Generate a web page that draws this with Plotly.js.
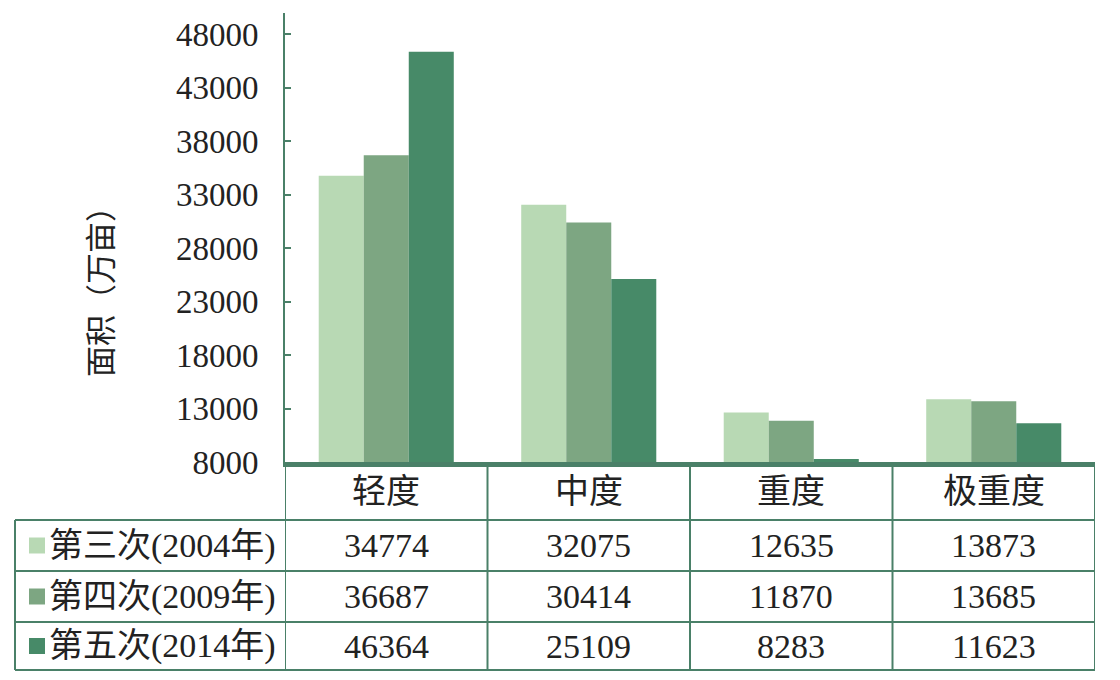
<!DOCTYPE html>
<html>
<head>
<meta charset="utf-8">
<script src="https://cdn.plot.ly/plotly-3.0.1.min.js"></script>
<style>
  html, body { margin: 0; padding: 0; background: #fff; }
  #chart { width: 1120px; height: 680px; }
</style>
</head>
<body>
<div id="chart"></div>
<script>
// categories and survey rounds
const categories = ['轻度', '中度', '重度', '极重度'];
const seriesNames = ['第三次(2004年)', '第四次(2009年)', '第五次(2014年)'];
const round3 = [34774, 32075, 12635, 13873];
const round4 = [36687, 30414, 11870, 13685];
const round5 = [46364, 25109, 8283, 11623];
const seriesValues = [round3, round4, round5];
const seriesColors = ['#b8d9b4', '#7da682', '#478a68'];

const lineColor = '#4a8068';
const txtFont = 'Liberation Serif, Noto Sans CJK SC, serif';

// pixel layout of plot area
const W = 1120, H = 680;
const L = 285, R = 25, T = 13, B = 218;
const plotW = W - L - R, plotH = H - T - B;
const px = x => (x - L) / plotW;       // page x -> paper x
const py = y => (H - B - y) / plotH;   // page y -> paper y

// table rows (page y of borders)
const rowEdges = [462, 520, 571, 622, 670];
const tableLeft = 15;

let traces = [];
for (let i = 0; i < seriesNames.length; i++) {
    traces.push({
        type: 'bar',
        name: seriesNames[i],
        x: categories,
        y: seriesValues[i],
        marker: { color: seriesColors[i], line: { width: 0 } },
        hoverinfo: 'x+y+name'
    });
}

let shapes = [];
let annotations = [];

// horizontal table lines
for (let r = 1; r < rowEdges.length; r++) {
    shapes.push({
        type: 'line', xref: 'paper', yref: 'paper',
        x0: px(tableLeft), x1: 1, y0: py(rowEdges[r]), y1: py(rowEdges[r]),
        line: { color: lineColor, width: 2 }
    });
}
// vertical lines between category columns
for (let c = 0; c <= categories.length; c++) {
    shapes.push({
        type: 'line', xref: 'x', yref: 'paper',
        x0: c - 0.5, x1: c - 0.5, y0: 0, y1: py(rowEdges[rowEdges.length - 1]),
        line: { color: lineColor, width: 2 }
    });
}
// left border of legend column
shapes.push({
    type: 'line', xref: 'paper', yref: 'paper',
    x0: px(tableLeft), x1: px(tableLeft), y0: py(rowEdges[1]), y1: py(rowEdges[rowEdges.length - 1]),
    line: { color: lineColor, width: 2 }
});

// header row
categories.forEach(cat => {
    annotations.push({
        xref: 'x', yref: 'paper', x: cat, y: py((rowEdges[0] + rowEdges[1]) / 2),
        text: cat, showarrow: false, xanchor: 'center', yanchor: 'middle',
        font: { family: txtFont, size: 34, color: '#222' }
    });
});

// data rows
for (let i = 0; i < seriesNames.length; i++) {
    const yc = py((rowEdges[i + 1] + rowEdges[i + 2]) / 2);
    // legend key square
    shapes.push({
        type: 'rect', xref: 'paper', yref: 'paper',
        x0: px(29), x1: px(45), y0: yc - 8 / plotH, y1: yc + 8 / plotH,
        fillcolor: seriesColors[i], line: { width: 0 }
    });
    annotations.push({
        xref: 'paper', yref: 'paper', x: px(47), y: yc,
        text: seriesNames[i], showarrow: false, xanchor: 'left', yanchor: 'middle',
        font: { family: txtFont, size: 34, color: '#222' }
    });
    categories.forEach((cat, j) => {
        annotations.push({
            xref: 'x', yref: 'paper', x: cat, y: yc,
            text: String(seriesValues[i][j]), showarrow: false,
            xanchor: 'center', yanchor: 'middle',
            font: { family: txtFont, size: 34, color: '#222' }
        });
    });
}

// y axis title
annotations.push({
    xref: 'paper', yref: 'paper', x: px(98), y: py(284),
    text: '面积（万亩）', textangle: -90, showarrow: false,
    xanchor: 'center', yanchor: 'middle',
    font: { family: 'Noto Sans CJK SC, sans-serif', size: 31, color: '#222' }
});

let layout = {
    width: W, height: H,
    margin: { l: L, r: R, t: T, b: B },
    paper_bgcolor: '#fff', plot_bgcolor: '#fff',
    showlegend: false,
    bargap: 0.333, bargroupgap: 0,
    xaxis: {
        type: 'category', range: [-0.5, 3.5],
        showticklabels: false, ticks: '', showgrid: false, zeroline: false,
        showline: true, linecolor: lineColor, linewidth: 5
    },
    yaxis: {
        range: [8000, 50000], tick0: 8000, dtick: 5000,
        tickformat: 'd',
        showgrid: false, zeroline: false,
        showline: true, linecolor: lineColor, linewidth: 2,
        ticks: 'inside', ticklen: 6, tickwidth: 2, tickcolor: lineColor,
        ticklabelstandoff: 18,
        tickfont: { family: txtFont, size: 33, color: '#222' }
    },
    shapes: shapes,
    annotations: annotations
};

Plotly.newPlot('chart', traces, layout, { displayModeBar: false, staticPlot: true });
</script>
</body>
</html>
